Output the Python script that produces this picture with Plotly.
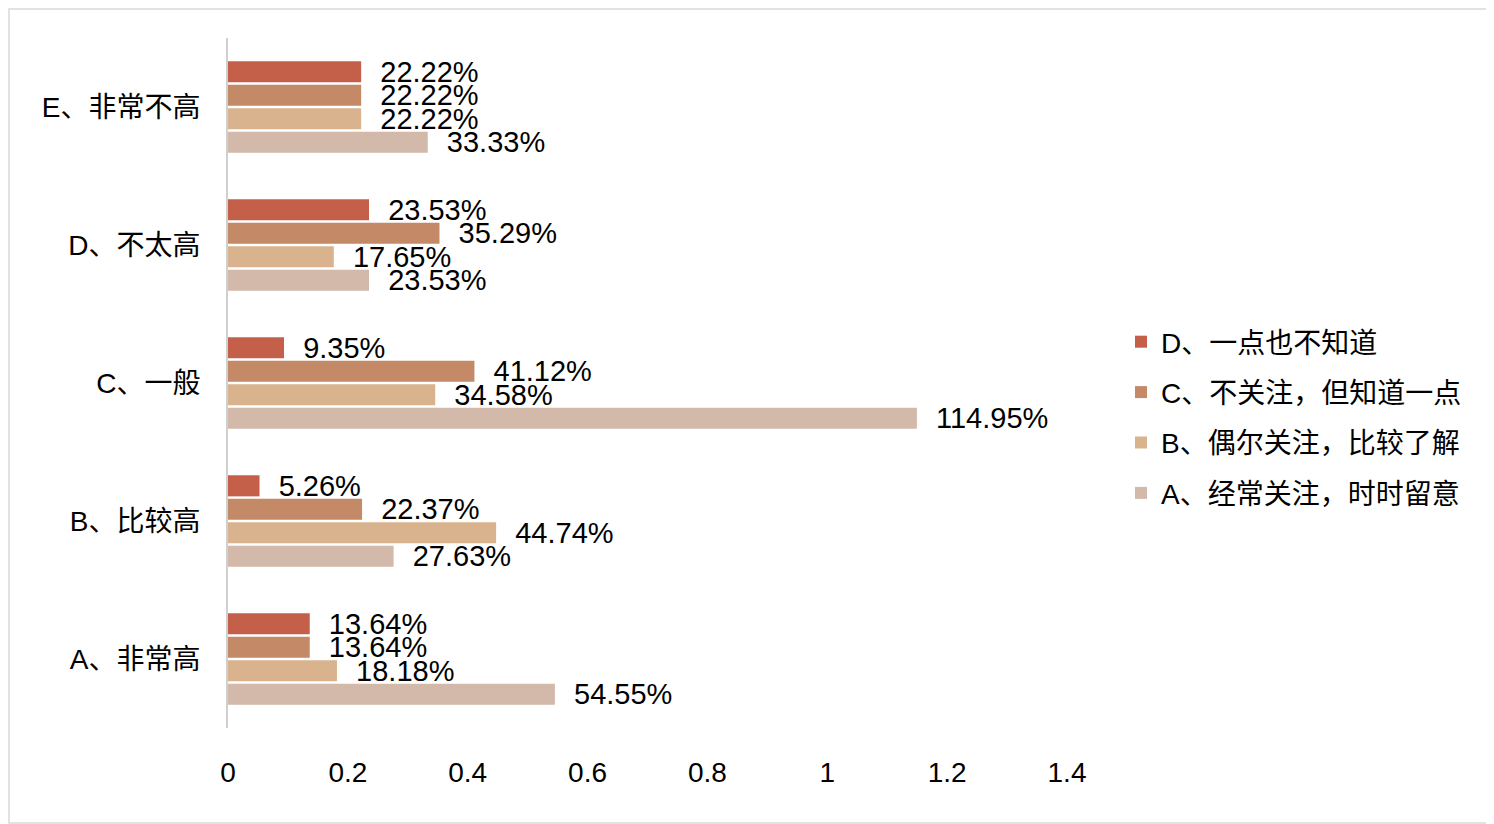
import plotly.graph_objects as go

categories = ["A、非常高", "B、比较高", "C、一般", "D、不太高", "E、非常不高"]
series_names = ["A、经常关注，时时留意", "B、偶尔关注，比较了解", "C、不关注，但知道一点", "D、一点也不知道"]
series_A = [0.5455, 0.2763, 1.1495, 0.2353, 0.3333]
series_B = [0.1818, 0.4474, 0.3458, 0.1765, 0.2222]
series_C = [0.1364, 0.2237, 0.4112, 0.3529, 0.2222]
series_D = [0.1364, 0.0526, 0.0935, 0.2353, 0.2222]
colors = ["#D2B9A9", "#D9B38D", "#C48A67", "#C45F49"]
x_ticks = [0, 0.2, 0.4, 0.6, 0.8, 1, 1.2, 1.4]
x_ticklabels = ["0", "0.2", "0.4", "0.6", "0.8", "1", "1.2", "1.4"]

FONT = "Liberation Sans, Arial, Noto Sans CJK SC, sans-serif"
OFF = 8  # page body margin
W, H = 1494 - OFF, 824 - OFF
L, R, T, B = 228 - OFF, 1494 - 1067, 38 - OFF, 824 - 728

fig = go.Figure()
for i, (name, vals, col) in enumerate(zip(series_names, [series_A, series_B, series_C, series_D], colors)):
    fig.add_trace(go.Bar(
        y=categories, x=vals, name=name, orientation="h",
        marker=dict(color=col, line=dict(width=0)),
        text=["  " + f"{v*100:.2f}%" for v in vals],
        textposition="outside", constraintext="none", cliponaxis=False,
        textfont=dict(family=FONT, size=29, color="#000000"),
        legendgroup=name, legendrank=1000 - i,
    ))

pw = W - L - R
ph = H - T - B
fig.update_layout(
    width=W, height=H,
    margin=dict(l=L, r=R, t=T, b=B),
    barmode="group", bargap=0.32, bargroupgap=0.1,
    paper_bgcolor="white", plot_bgcolor="white",
    font=dict(family=FONT, color="#000000"),
    xaxis=dict(range=[0, 1.4], tickvals=x_ticks, ticktext=x_ticklabels,
               showgrid=False, zeroline=False, showline=False,
               tickfont=dict(size=28, family=FONT), ticks="", ticklabelstandoff=25),
    yaxis=dict(showgrid=False, zeroline=False, showline=True, linecolor="#D0D0D0", linewidth=2,
               tickfont=dict(size=28, family=FONT), ticks="", ticklabelstandoff=20),
    legend=dict(x=(1121 - OFF - L) / pw, y=(T + ph - (317 - OFF)) / ph, xanchor="left", yanchor="top",
                traceorder="grouped", tracegroupgap=11, itemwidth=30,
                font=dict(size=28, family=FONT), bgcolor="rgba(0,0,0,0)"),
    showlegend=True,
    shapes=[dict(type="rect", xref="paper", yref="paper",
                 x0=(1 - L) / pw, x1=(W - 1 - L) / pw,
                 y0=(T + ph - (H - 1)) / ph, y1=(T + ph - 1) / ph,
                 line=dict(color="#D9D9D9", width=1.5), fillcolor="rgba(0,0,0,0)", layer="below")],
)
fig.write_html("out.html")
